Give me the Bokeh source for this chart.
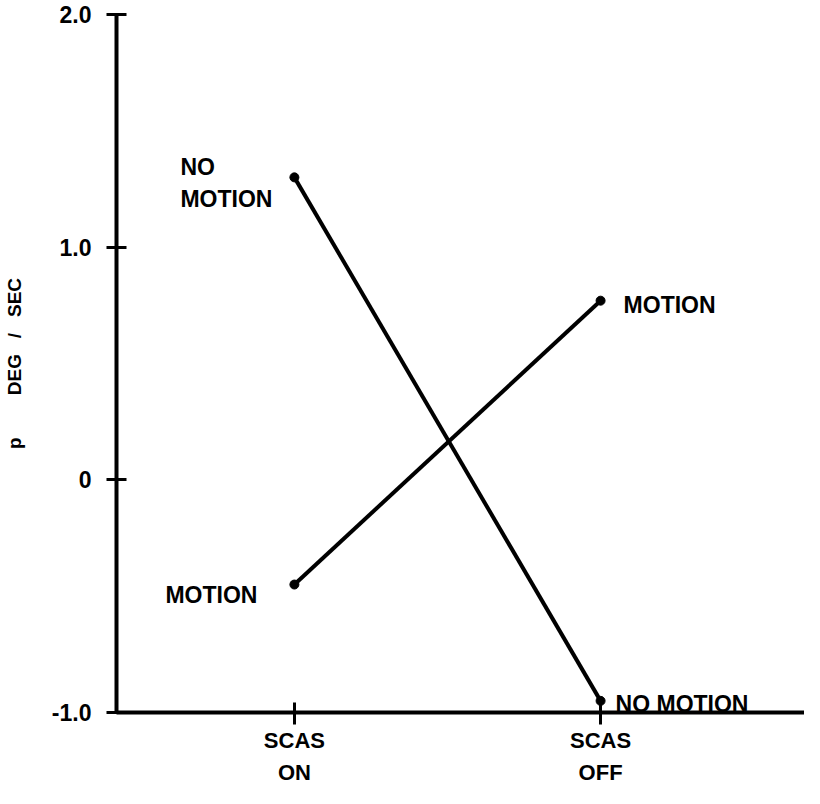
from bokeh.plotting import figure
from bokeh.models import Range1d, FixedTicker, Label
from bokeh.embed import file_html
from bokeh.resources import INLINE

# ---- data ----
conditions = ["SCAS\nON", "SCAS\nOFF"]
cond_pos = [1, 2]
motion = [-0.45, 0.77]
no_motion = [1.30, -0.95]
y_ticks = [-1.0, 0.0, 1.0, 2.0]
y_tick_labels = ["-1.0", "0", "1.0", "2.0"]
NB = "\u00a0"
y_title = "p" + NB * 8 + "DEG" + NB * 3 + "/" + NB * 3 + "SEC"
series_names = ["MOTION", "NO MOTION"]

FONT = "Liberation Sans"

p = figure(width=804, height=788, output_backend="svg", toolbar_location=None,
           x_range=Range1d(0.419, 2.666), y_range=Range1d(-1.0, 2.0),
           min_border_left=112, min_border_top=14, min_border_bottom=74,
           min_border_right=0)
p.outline_line_color = None
p.xgrid.visible = False
p.ygrid.visible = False
p.background_fill_color = "white"

# lines and end dots
for vals in (motion, no_motion):
    p.line(cond_pos, vals, line_color="black", line_width=4)
    p.scatter(cond_pos, vals, size=9, fill_color="black", line_color="black")

# y axis
ya = p.yaxis[0]
ya.ticker = FixedTicker(ticks=y_ticks)
ya.major_label_overrides = {t: l for t, l in zip(y_ticks, y_tick_labels)}
ya.minor_tick_line_color = None
ya.major_tick_in = 10
ya.major_tick_out = 10
ya.major_tick_line_width = 3
ya.major_tick_line_color = "black"
ya.axis_line_width = 4
ya.axis_line_color = "black"
ya.major_label_standoff = 15
ya.major_label_text_font = FONT
ya.major_label_text_font_size = "23px"
ya.major_label_text_font_style = "bold"
ya.major_label_text_color = "black"
ya.axis_label = y_title
ya.axis_label_text_font = FONT
ya.axis_label_text_font_size = "19px"
ya.axis_label_text_font_style = "bold"
ya.axis_label_text_color = "black"
ya.axis_label_standoff = 24

# x axis
xa = p.xaxis[0]
xa.ticker = FixedTicker(ticks=cond_pos)
xa.major_label_overrides = {c: l for c, l in zip(cond_pos, conditions)}
xa.minor_tick_line_color = None
xa.major_tick_in = 10
xa.major_tick_out = 12
xa.major_tick_line_width = 3
xa.major_tick_line_color = "black"
xa.axis_line_width = 4
xa.axis_line_color = "black"
xa.major_label_standoff = 3
xa.major_label_text_font = FONT
xa.major_label_text_font_size = "22px"
xa.major_label_text_font_style = "bold"
xa.major_label_text_color = "black"
xa.major_label_text_line_height = 1.3

# point labels
def add_label(x, y, text, dx, dy, align="left"):
    p.add_layout(Label(x=x, y=y, text=text, x_offset=dx, y_offset=dy,
                       text_align=align, text_baseline="alphabetic",
                       text_font=FONT, text_font_size="23px",
                       text_font_style="bold", text_color="black"))

# NO MOTION at SCAS ON (two lines)
add_label(cond_pos[0], no_motion[0], "NO", -114, 10)
add_label(cond_pos[0], no_motion[0], series_names[0], -114, -22)
# MOTION at SCAS ON
add_label(cond_pos[0], motion[0], series_names[0], -37, -10, "right")
# MOTION at SCAS OFF
add_label(cond_pos[1], motion[1], series_names[0], 23, -4)
# NO MOTION at SCAS OFF
add_label(cond_pos[1], no_motion[1], series_names[1], 15, -3)

open("out.html", "w").write(file_html(p, INLINE))
